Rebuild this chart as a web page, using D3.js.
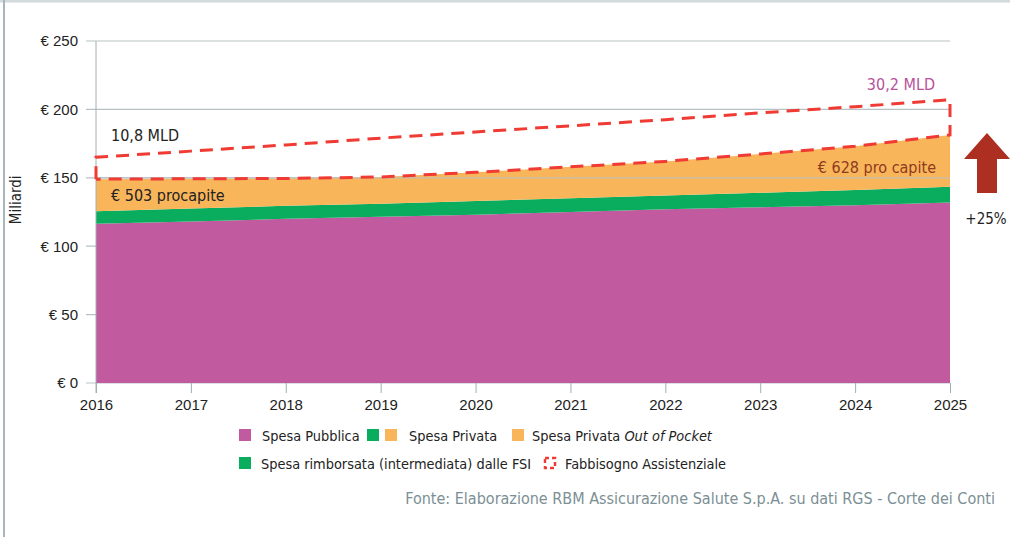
<!DOCTYPE html>
<html lang="it">
<head>
<meta charset="UTF-8">
<title>Spesa sanitaria 2016-2025</title>
<script src="https://cdn.jsdelivr.net/npm/d3@7/dist/d3.min.js"></script>
<style>
  body { margin: 0; background: #fff; }
  svg { font-family: "Liberation Sans Narrow", "DejaVu Sans Condensed", "Noto Sans", sans-serif; }
  .grid line { stroke: #b7c1c4; stroke-width: 1.2; }
  .axis text { font-size: 15px; fill: #222; }
  .axis line, .axis path { stroke: #9fb0b4; }
</style>
</head>
<body>
<svg id="chart" width="1010" height="537"></svg>
<script>
// dati (miliardi di euro)
var years = [2016, 2017, 2018, 2019, 2020, 2021, 2022, 2023, 2024, 2025];
var spesaPubblica = [116.5, 118, 120, 121.5, 123, 125, 127, 128.5, 130, 132];
var spesaFSI = [9, 9.5, 9.5, 9.5, 10, 10, 10, 10.5, 11, 11.5];
var spesaOOP = [23.5, 21.8, 20, 19.6, 21, 23, 25, 28.4, 32, 37.8];
var fabbisogno = [165, 169.5, 174, 179, 183.5, 188, 192.5, 197.5, 202, 207];
var yTicks = [0, 50, 100, 150, 200, 250];

var rows = years.map(function(y, i) {
    return { year: y, pub: spesaPubblica[i], fsi: spesaFSI[i], oop: spesaOOP[i], need: fabbisogno[i] };
});

var svg = d3.select("#chart");
var margin = { top: 41, left: 96, right: 60, bottom: 154 },
    width = 1010, height = 537;

var x = d3.scaleLinear()
    .domain([2016, 2025])
    .range([margin.left, width - margin.right]);

var y = d3.scaleLinear()
    .domain([0, 250])
    .range([height - margin.bottom, margin.top]);

// cornice
svg.append("line").attr("x1", 0).attr("x2", width).attr("y1", 1).attr("y2", 1)
    .attr("stroke", "#d3dadb").attr("stroke-width", 3);
svg.append("line").attr("x1", 4).attr("x2", 4).attr("y1", 0).attr("y2", height)
    .attr("stroke", "#a7b6ba").attr("stroke-width", 2);

// griglia
svg.append("g")
    .attr("class", "grid")
    .selectAll("line")
    .data(yTicks)
    .enter()
    .append("line")
    .attr("x1", margin.left - 10)
    .attr("x2", x(2025))
    .attr("y1", d => y(d))
    .attr("y2", d => y(d));

// aree impilate
var stack = d3.stack().keys(["pub", "fsi", "oop"]);
var series = stack(rows);
var colors = { pub: "#c25a9f", fsi: "#0aad5e", oop: "#f9b55a" };

var area = d3.area()
    .x(d => x(d.data.year))
    .y0(d => y(d[0]))
    .y1(d => y(d[1]));

svg.append("g")
    .selectAll("path")
    .data(series)
    .enter()
    .append("path")
    .attr("fill", d => colors[d.key])
    .attr("d", area);

// linea 150 sopra le aree
svg.append("line")
    .attr("x1", x(2016)).attr("x2", x(2025))
    .attr("y1", y(150)).attr("y2", y(150))
    .attr("stroke", "#b7c1c4").attr("stroke-width", 1.2).attr("opacity", 0.8);

// assi
svg.append("g")
    .attr("class", "axis")
    .attr("transform", `translate(${margin.left},0)`)
    .call(d3.axisLeft(y).tickValues(yTicks).tickSize(0).tickPadding(18).tickFormat(d => "€ " + d))
    .call(g => g.select(".domain").attr("d", `M0,${y(250)}V${y(0) + 10}`));

svg.append("g")
    .attr("class", "axis")
    .attr("transform", `translate(0,${y(0)})`)
    .call(d3.axisBottom(x).tickValues(years).tickFormat(d3.format("d")).tickSize(10).tickPadding(6))
    .call(g => g.select(".domain").remove());

svg.append("text")
    .attr("transform", `translate(21,${y(150) + 22}) rotate(-90)`)
    .attr("text-anchor", "middle")
    .style("font-size", "15px")
    .attr("fill", "#222")
    .text("Miliardi");

// fabbisogno assistenziale (riquadro tratteggiato)
var last = rows.length - 1;
var topOf = d => d.pub + d.fsi + d.oop;
var needPath = d3.path();
needPath.moveTo(x(years[0]), y(topOf(rows[0])));
needPath.lineTo(x(years[0]), y(fabbisogno[0]));
rows.forEach(d => needPath.lineTo(x(d.year), y(d.need)));
needPath.lineTo(x(years[last]), y(topOf(rows[last])));
rows.slice().reverse().forEach(d => needPath.lineTo(x(d.year), y(topOf(d))));

svg.append("path")
    .attr("d", needPath.toString())
    .attr("fill", "none")
    .attr("stroke", "#ef3b33")
    .attr("stroke-width", 3)
    .attr("stroke-dasharray", "13,8");

// etichette
svg.append("text")
    .attr("x", 111).attr("y", 141)
    .style("font-size", "16px").attr("fill", "#222")
    .text("10,8 MLD");

svg.append("text")
    .attr("x", 935).attr("y", 90)
    .attr("text-anchor", "end")
    .style("font-size", "16px").attr("fill", "#b8519a")
    .text("30,2 MLD");

svg.append("text")
    .attr("x", 111).attr("y", 201)
    .style("font-size", "16px").attr("fill", "#222")
    .text("€ 503 procapite");

svg.append("text")
    .attr("x", 936).attr("y", 173)
    .attr("text-anchor", "end")
    .style("font-size", "16px").attr("fill", "#8d3b1f")
    .text("€ 628 pro capite");

// freccia +25%
svg.append("path")
    .attr("d", "M987,133 L1010,159 L997,159 L997,193 L977,193 L977,159 L964,159 Z")
    .attr("fill", "#ad2f22");

svg.append("text")
    .attr("x", 986).attr("y", 224)
    .attr("text-anchor", "middle")
    .style("font-size", "15px").attr("fill", "#222")
    .text("+25%");

// legenda
var legend = svg.append("g").style("font-size", "14.4px").attr("fill", "#222");
function swatch(xp, yp, color) {
    legend.append("rect").attr("x", xp).attr("y", yp).attr("width", 12).attr("height", 12).attr("fill", color);
}
swatch(239, 429, colors.pub);
legend.append("text").attr("x", 262).attr("y", 441).text("Spesa Pubblica");
swatch(367, 429, colors.fsi);
swatch(385, 429, colors.oop);
legend.append("text").attr("x", 409).attr("y", 441).text("Spesa Privata");
swatch(512, 429, colors.oop);
var t = legend.append("text").attr("x", 532).attr("y", 441);
t.append("tspan").text("Spesa Privata ");
t.append("tspan").style("font-style", "italic").text("Out of Pocket");

swatch(239, 457, colors.fsi);
legend.append("text").attr("x", 261).attr("y", 469).text("Spesa rimborsata (intermediata) dalle FSI");
legend.append("rect").attr("x", 545).attr("y", 458).attr("width", 10).attr("height", 10)
    .attr("fill", "none").attr("stroke", "#ef3b33").attr("stroke-width", 2.5).attr("stroke-dasharray", "4,3");
legend.append("text").attr("x", 565).attr("y", 469).text("Fabbisogno Assistenziale");

// fonte
svg.append("text")
    .attr("x", 995).attr("y", 504)
    .attr("text-anchor", "end")
    .style("font-size", "16px").attr("fill", "#7b8f95")
    .text("Fonte: Elaborazione RBM Assicurazione Salute S.p.A. su dati RGS - Corte dei Conti");
</script>
</body>
</html>
